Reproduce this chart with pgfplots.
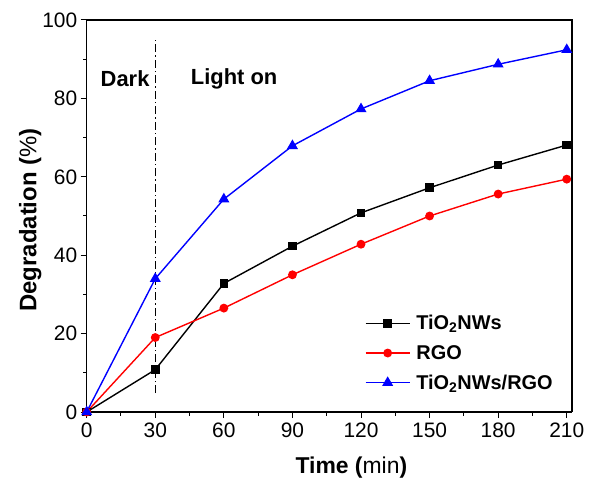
\documentclass[border=0pt]{standalone}
\usepackage{fontspec}
\setmainfont{Liberation Sans}
\usepackage{pgfplots}
\pgfplotsset{compat=1.18}
\begin{document}
\begin{tikzpicture}
\useasboundingbox (-86.7bp,-66bp) rectangle (504.3bp,412bp);
\begin{axis}[
  scale only axis,
  width=485.3bp, height=392bp,
  xmin=0, xmax=212.3, ymin=0, ymax=100,
  xtick={0,30,...,210}, ytick={0,20,...,100},
  minor x tick num=1, minor y tick num=1,
  tick align=outside,
  axis x line*=bottom, axis y line*=left,
  major tick length=6bp, minor tick length=3.5bp,
  every tick/.style={black, line width=1bp},
  axis line style={line width=1.2bp},
  /pgf/number format/assume math mode=true,
  ticklabel style={font=\fontsize{21}{23}\selectfont},
  xticklabel style={yshift=-1bp},
  xlabel={\textbf{Time (}min\textbf{)}},
  ylabel={\textbf{Degradation (}\%\textbf{)}},
  label style={font=\fontsize{23}{25}\selectfont},
  xlabel style={yshift=-13bp, xshift=22bp},
  ylabel style={font=\fontsize{24}{26}\selectfont, yshift=-6bp, xshift=-4bp},
  legend style={draw=none, fill=none, at={(0.573,0.252)}, anchor=north west,
    font=\bfseries\fontsize{20}{22}\selectfont, row sep=10bp, inner sep=0pt,
    /tikz/every odd column/.style={column sep=4bp}},
  legend image code/.code={
    \draw[#1, mark repeat=2, mark phase=2] plot coordinates {(0bp,0bp) (22bp,0bp) (44bp,0bp)};},
  legend cell align=left,
  clip=false,
]
\draw[line width=1.2bp] (axis cs:0,100) -- (axis cs:212.3,100) -- (axis cs:212.3,0);
\addplot[black, line width=1.4bp, dash pattern=on 8bp off 3bp on 1.5bp off 3bp, forget plot] coordinates {(30,4.8) (30,95.7)};
\addplot[black, line width=1.4bp, mark=square*, mark size=3.6bp] coordinates {
(0,0) (30,10.8) (60,32.8) (90,42.3) (120,50.8) (150,57.2) (180,63.0) (210,68.1)};
\addlegendentry{TiO\textsubscript{2}NWs}
\addplot[red, line width=1.4bp, mark=*, mark size=3.7bp] coordinates {
(0,0) (30,19.0) (60,26.5) (90,35.0) (120,42.8) (150,50.0) (180,55.6) (210,59.4)};
\addlegendentry{RGO}
\addplot[blue, line width=1.4bp, mark=triangle*, mark size=5bp] coordinates {
(0,0) (30,34.0) (60,54.3) (90,67.9) (120,77.3) (150,84.5) (180,88.7) (210,92.4)};
\addlegendentry{TiO\textsubscript{2}NWs/RGO}
\node[font=\bfseries\fontsize{22}{24}\selectfont] at (axis cs:16.8,85) {Dark};
\node[font=\bfseries\fontsize{22}{24}\selectfont] at (axis cs:64.5,85) {Light on};
\end{axis}
\end{tikzpicture}
\end{document}
